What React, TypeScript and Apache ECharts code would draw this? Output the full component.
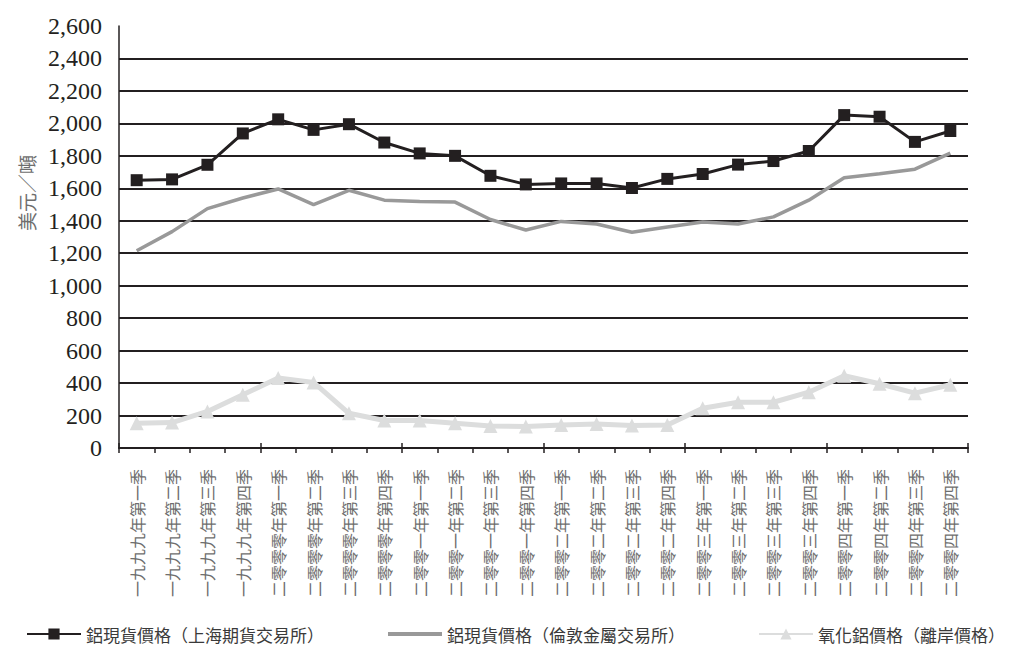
import React, { useEffect, useRef } from "react";
import * as echarts from "echarts";

// 季度分類
const quarters: string[] = [
  "一九九九年第一季", "一九九九年第二季", "一九九九年第三季", "一九九九年第四季",
  "二零零零年第一季", "二零零零年第二季", "二零零零年第三季", "二零零零年第四季",
  "二零零一年第一季", "二零零一年第二季", "二零零一年第三季", "二零零一年第四季",
  "二零零二年第一季", "二零零二年第二季", "二零零二年第三季", "二零零二年第四季",
  "二零零三年第一季", "二零零三年第二季", "二零零三年第三季", "二零零三年第四季",
  "二零零四年第一季", "二零零四年第二季", "二零零四年第三季", "二零零四年第四季",
];

const seriesNames: string[] = [
  "鋁現貨價格（上海期貨交易所）",
  "鋁現貨價格（倫敦金屬交易所）",
  "氧化鋁價格（離岸價格）",
];

// 美元／噸
const shfeAluminium: number[] = [
  1650, 1655, 1745, 1938, 2025, 1960, 1995, 1882,
  1815, 1800, 1677, 1624, 1630, 1630, 1602, 1658,
  1688, 1746, 1768, 1830, 2051, 2041, 1886, 1953,
];
const lmeAluminium: number[] = [
  1215, 1333, 1475, 1540, 1596, 1500, 1588, 1527,
  1519, 1515, 1408, 1343, 1396, 1380, 1329, 1362,
  1392, 1380, 1424, 1527, 1665, 1690, 1718, 1817,
];
const aluminaPrice: number[] = [
  153, 157, 225, 328, 431, 404, 214, 169,
  169, 153, 136, 132, 142, 148, 138, 142,
  245, 282, 282, 344, 445, 396, 338, 390,
];

const yMin = 0;
const yMax = 2600;
const yStep = 200;

const cjkFont = '"Noto Sans CJK TC", "Noto Sans CJK SC", sans-serif';
const serifFont = '"Liberation Serif", "DejaVu Serif", serif';

export default function App() {
  const ref = useRef<HTMLDivElement>(null);

  useEffect(() => {
    if (!ref.current) return;
    const chart = echarts.init(ref.current, undefined, { renderer: "svg" });

    const legendBase = {
      orient: "horizontal" as const,
      top: 624,
      padding: 0,
      itemWidth: 54,
      itemHeight: 14,
      itemGap: 9,
      textStyle: { fontFamily: cjkFont, fontSize: 17, lineHeight: 20, color: "#3a3a3a" },
    };

    chart.setOption({
      animation: false,
      backgroundColor: "#ffffff",
      grid: { left: 119, right: 45, top: 26, bottom: 199, containLabel: false },
      legend: [
        { ...legendBase, left: 26, data: [seriesNames[0]] },
        // plain grey bar as the key for the unmarked series
        {
          ...legendBase,
          left: 388,
          itemHeight: 4,
          data: [{ name: seriesNames[1], icon: "rect", itemStyle: { color: "#999999" } }],
        },
        { ...legendBase, left: 758, data: [seriesNames[2]] },
      ],
      xAxis: [
        {
          type: "category",
          data: quarters,
          boundaryGap: true,
          position: "bottom",
          axisLine: { show: true, lineStyle: { color: "#231f20", width: 2 } },
          axisTick: { show: true, inside: false, length: 5, lineStyle: { color: "#231f20", width: 1.5 } },
          axisLabel: {
            interval: 0,
            rotate: 90,
            margin: 21,
            fontFamily: cjkFont,
            fontSize: 16,
            color: "#6e6e6e",
          },
          splitLine: { show: false },
        },
        {
          type: "category",
          data: quarters,
          boundaryGap: true,
          position: "bottom",
          axisLine: { show: false },
          axisTick: { show: true, inside: true, length: 5, lineStyle: { color: "#231f20", width: 1.5 } },
          axisLabel: { show: false },
          splitLine: { show: false },
        },
      ],
      yAxis: {
        type: "value",
        min: yMin,
        max: yMax,
        interval: yStep,
        axisLine: { show: true, lineStyle: { color: "#231f20", width: 1.5 } },
        axisTick: { show: false },
        axisLabel: {
          margin: 17,
          fontFamily: serifFont,
          fontSize: 24,
          color: "#231f20",
          formatter: (v: number) => v.toLocaleString("en-US"),
        },
        splitLine: {
          show: true,
          showMaxLine: false,
          lineStyle: { color: "#231f20", width: 2 },
        },
      },
      graphic: [
        {
          type: "text",
          x: 26,
          y: 193,
          rotation: Math.PI / 2,
          style: {
            text: "美元／噸",
            fontFamily: cjkFont,
            fontSize: 19,
            fill: "#6e6e6e",
            align: "center",
            verticalAlign: "middle",
          },
        },
      ],
      series: [
        {
          name: seriesNames[2],
          type: "line",
          data: aluminaPrice,
          symbol: "triangle",
          symbolSize: 14,
          lineStyle: { color: "#dcdddd", width: 5 },
          itemStyle: { color: "#dcdddd" },
          z: 2,
        },
        {
          name: seriesNames[1],
          type: "line",
          data: lmeAluminium,
          symbol: "none",
          lineStyle: { color: "#999999", width: 3.5 },
          itemStyle: { color: "#999999" },
          z: 3,
        },
        {
          name: seriesNames[0],
          type: "line",
          data: shfeAluminium,
          symbol: "rect",
          symbolSize: 12,
          lineStyle: { color: "#231f20", width: 3 },
          itemStyle: { color: "#231f20" },
          z: 4,
        },
      ],
    });

    return () => chart.dispose();
  }, []);

  return (
    <div
      ref={ref}
      style={{ position: "fixed", left: 0, top: 0, width: 1013, height: 647, background: "#ffffff" }}
    />
  );
}
